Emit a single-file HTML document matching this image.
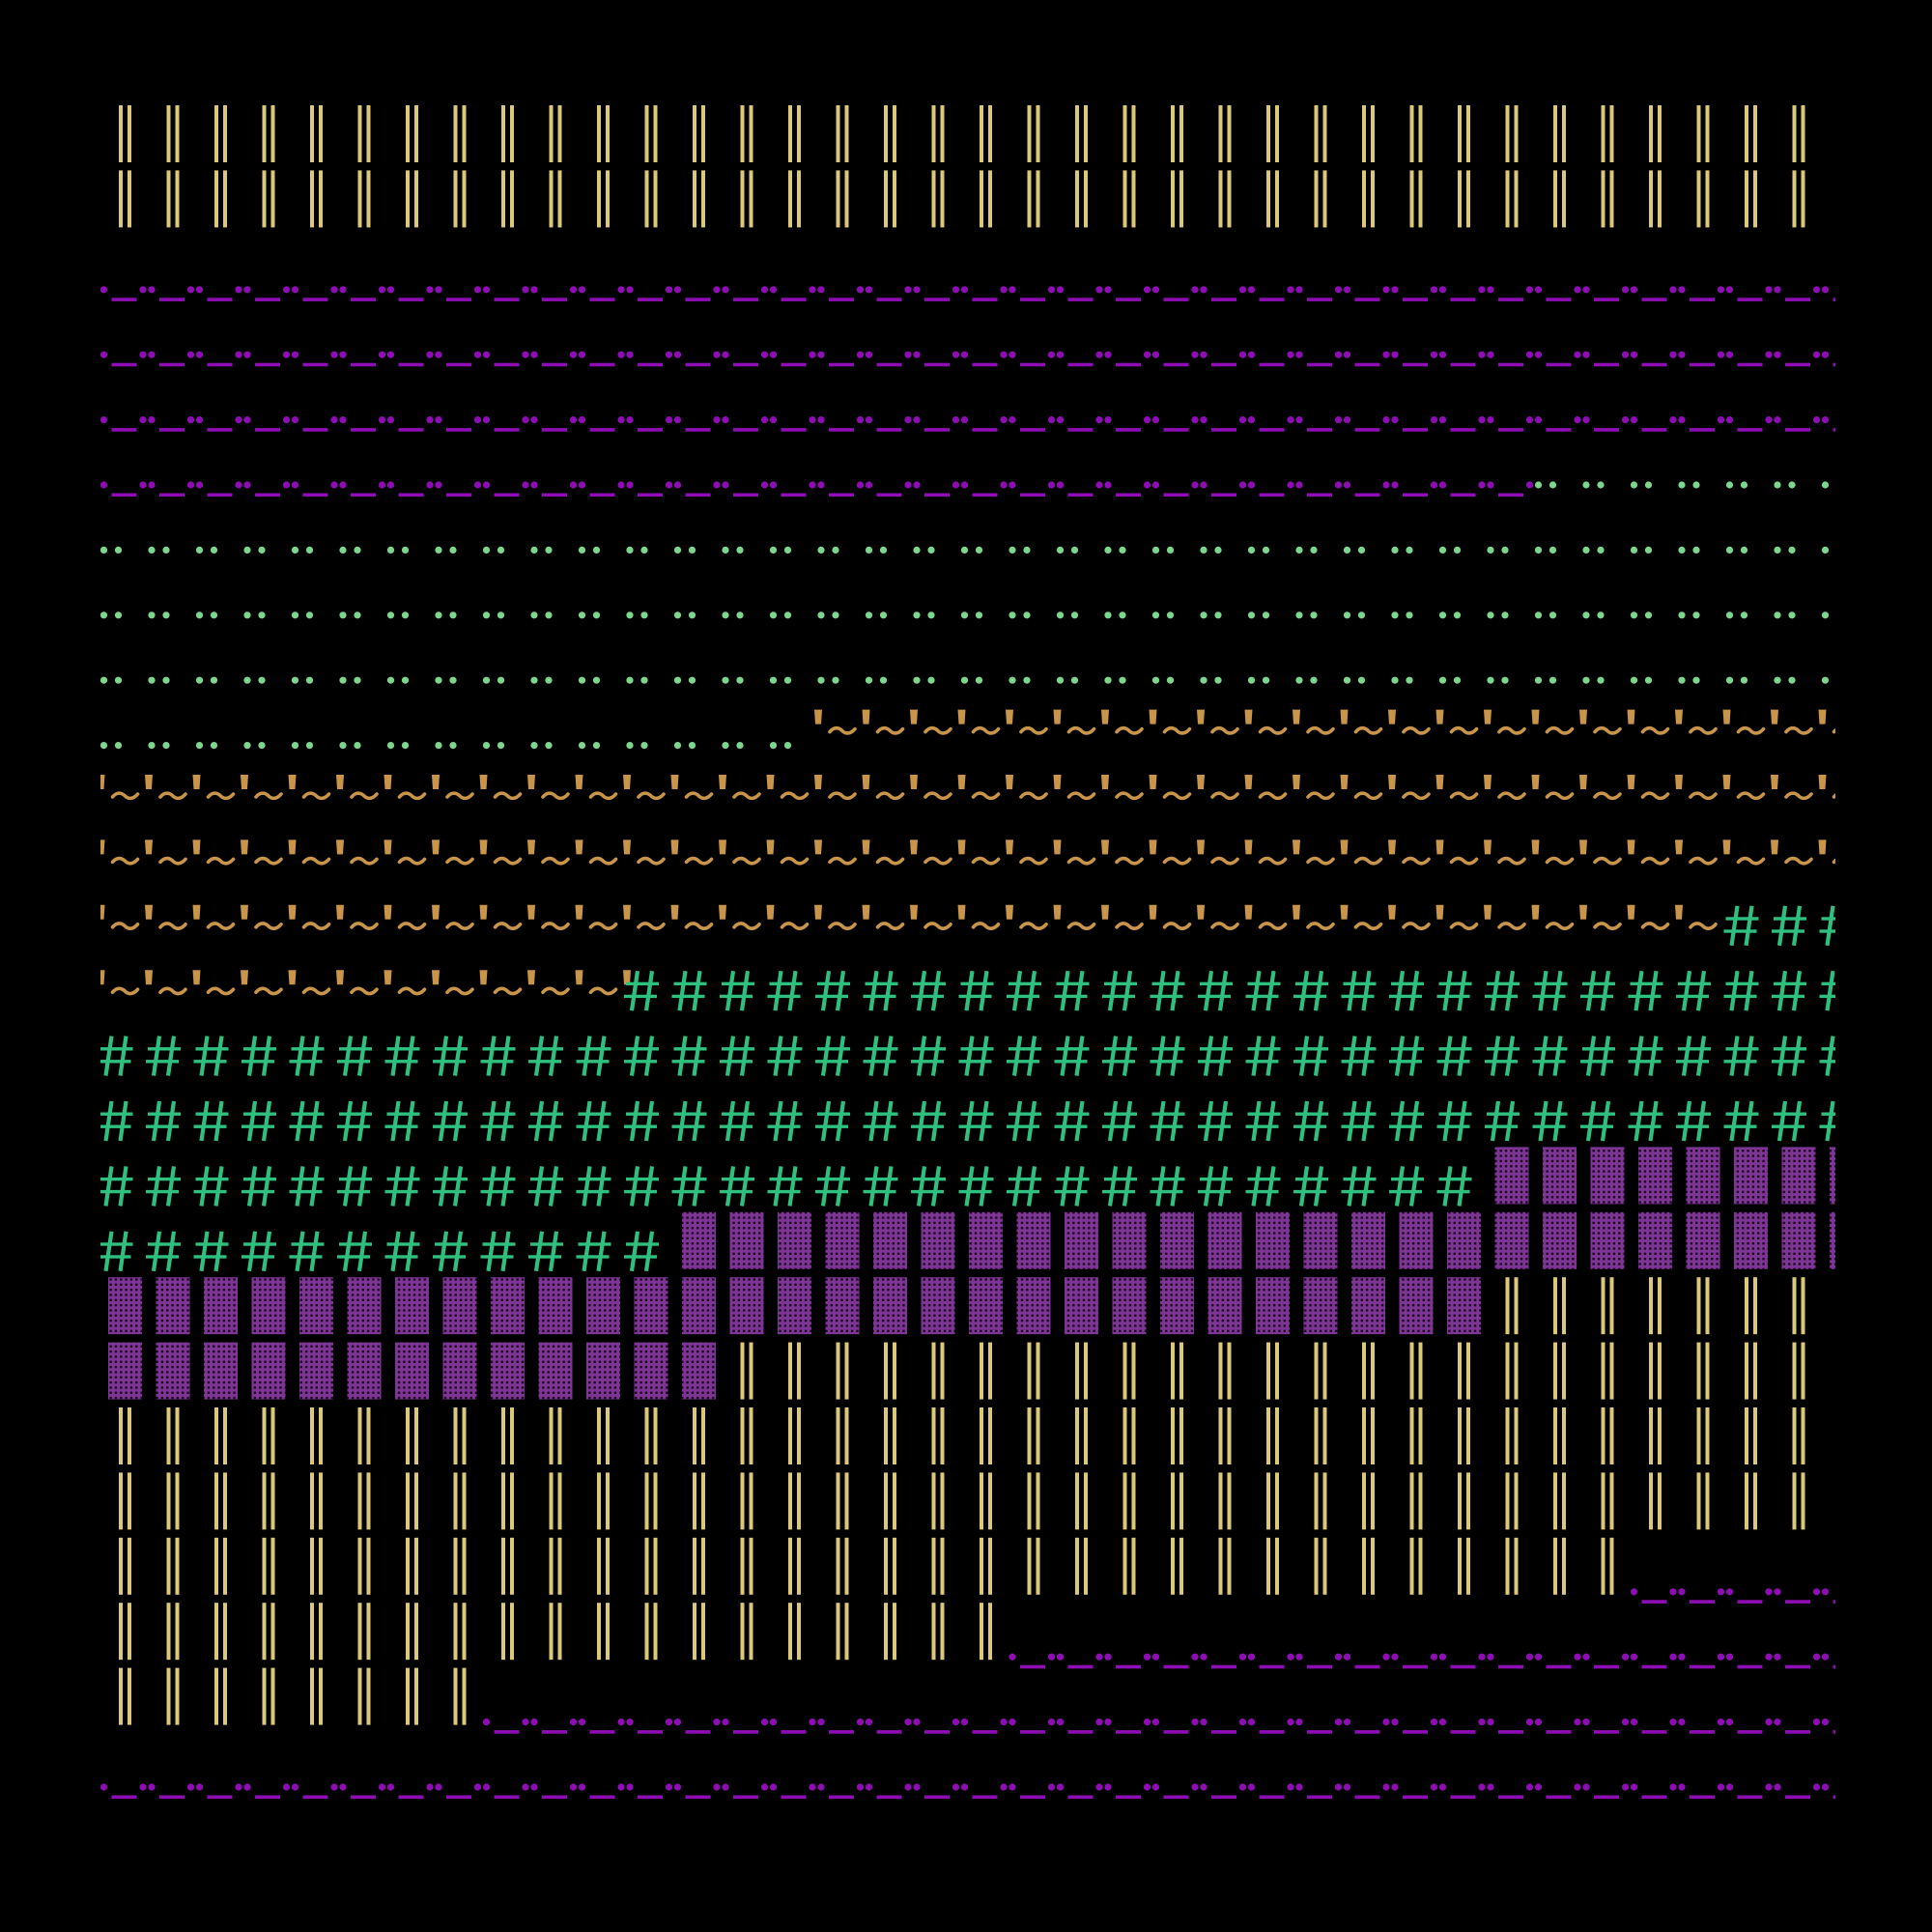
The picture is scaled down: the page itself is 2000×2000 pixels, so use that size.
<!DOCTYPE html>
<html><head><meta charset="utf-8"><style>
html,body{margin:0;padding:0;background:#000;width:2000px;height:2000px;overflow:hidden}
</style></head><body>
<svg id="s" xmlns="http://www.w3.org/2000/svg" width="2000" height="2000" viewBox="0 0 2000 2000">
<defs>
<clipPath id="c"><rect x="104" y="0" width="1796" height="2000"/></clipPath>
<pattern id="p" width="5.33" height="5.33" patternUnits="userSpaceOnUse">
<rect width="5.33" height="5.33" fill="#7e3596"/>
<rect x="1.5" y="1.5" width="2.4" height="2.4" fill="#1a0a1e"/>
</pattern>
</defs>
<rect width="2000" height="2000" fill="#000"/>
<g id="g" clip-path="url(#c)"></g>
</svg>
<script>
var g=document.getElementById('g');var out='';
var P=49.5;
var rows=[
 [['bar',1e9]],[['bar',1e9]],
 [['pur',1e9]],[['pur',1e9]],[['pur',1e9]],
 [['pur',1588],['grn',1e9]],
 [['grn',1e9]],[['grn',1e9]],[['grn',1e9]],
 [['grn',840],['org',1e9]],
 [['org',1e9]],[['org',1e9]],
 [['org',1783],['tea',1e9]],
 [['org',646],['tea',1e9]],
 [['tea',1e9]],[['tea',1e9]],
 [['tea',1530],['blk',1e9]],
 [['tea',690],['blk',1e9]],
 [['blk',1540],['bar',1e9]],
 [['blk',750],['bar',1e9]],
 [['bar',1e9]],[['bar',1e9]],
 [['bar',1687],['pur',1e9]],
 [['bar',1044],['pur',1e9]],
 [['bar',500],['pur',1e9]],
 [['pur',1e9]]
];
function inSeg(x,s,e){return x>=s&&x<e;}
for(var r=0;r<rows.length;r++){
 var T=109+67.4*r;var s=-1e9;
 for(var j=0;j<rows[r].length;j++){
  var cat=rows[r][j][0],e=rows[r][j][1];
  for(var k=-20;k<50;k++){
   var b=P*k,x;
   if(cat=='bar'){x=123+b;if(inSeg(x,s,e)&&x<1880&&x>100){out+='<rect x="'+x+'" y="'+T+'" width="4" height="59" fill="#dbc978"/><rect x="'+(x+9)+'" y="'+T+'" width="4" height="59" fill="#dbc978"/>';}}
   else if(cat=='pur'){
    x=148+b;if(inSeg(x,s,e))out+='<circle cx="'+x+'" cy="'+(T+56)+'" r="3.6" fill="#8e0db4"/>';
    x=157+b;if(inSeg(x,s,e))out+='<circle cx="'+x+'" cy="'+(T+56)+'" r="3.6" fill="#8e0db4"/>';
    x=165+b;if(inSeg(x,s,e))out+='<rect x="'+x+'" y="'+(T+64.5)+'" width="26" height="3.6" fill="#8e0db4"/>';
   }
   else if(cat=='grn'){
    x=107.5+b;if(inSeg(x,s,e))out+='<circle cx="'+x+'" cy="'+(T+56)+'" r="3.6" fill="#7dd68d"/>';
    x=122.5+b;if(inSeg(x,s,e))out+='<circle cx="'+x+'" cy="'+(T+56)+'" r="3.6" fill="#7dd68d"/>';
   }
   else if(cat=='org'){
    x=150+b;if(inSeg(x,s,e))out+='<path d="M'+x+' '+(T+19)+'h8l-1 15h-6z" fill="#c8954a"/>';
    x=166+b;if(inSeg(x,s,e)){var y=T+40;out+='<path d="M'+x+' '+(y+2)+'c5-6 10-4 13-1s8 4 13-2" stroke="#c8954a" stroke-width="3.6" fill="none" stroke-linecap="round"/>';}
   }
   else if(cat=='tea'){
    x=647+b;if(inSeg(x,s,e)){var c='#2fc07f';
     out+='<path d="M'+(x+13)+' '+(T+20)+'L'+(x+7)+' '+(T+61)+'M'+(x+28)+' '+(T+20)+'L'+(x+22)+' '+(T+61)+'" stroke="'+c+'" stroke-width="4.2" fill="none"/>';
     out+='<rect x="'+(x+1)+'" y="'+(T+31.5)+'" width="34" height="3.4" fill="'+c+'"/><rect x="'+(x-1)+'" y="'+(T+44.5)+'" width="34" height="3.4" fill="'+c+'"/>';}
   }
   else if(cat=='blk'){
    x=112+b;if(inSeg(x,s,e))out+='<rect x="'+x+'" y="'+T+'" width="35" height="59" fill="url(#p)"/>';
   }
  }
  s=e;
 }
}
g.innerHTML=out;
</script>
</body></html>
